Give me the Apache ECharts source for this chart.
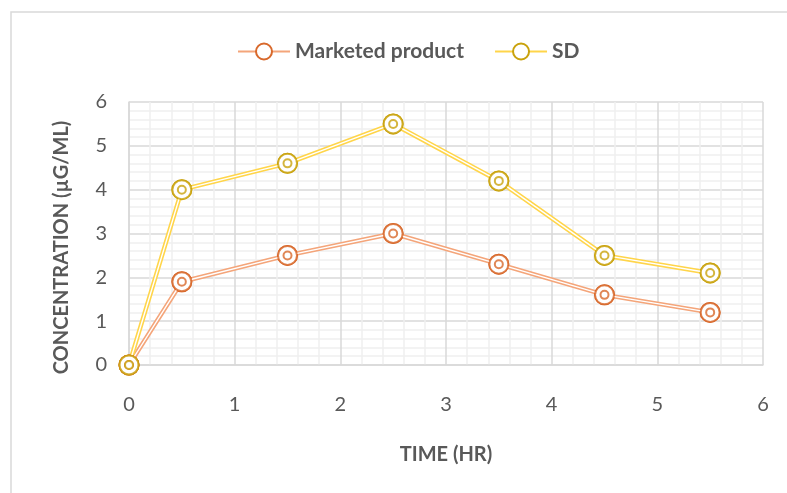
<!DOCTYPE html>
<html>
<head>
<meta charset="utf-8">
<script src="https://cdn.jsdelivr.net/npm/echarts@6/dist/echarts.min.js"></script>
<style>
  html, body { margin: 0; padding: 0; background: #fff; }
  #chart { width: 787px; height: 493px; }
</style>
</head>
<body>
<div id="chart"></div>
<script>
// Sampling times (hr) and plasma concentration (µg/mL) for each formulation
const timeHr = [0, 0.5, 1.5, 2.5, 3.5, 4.5, 5.5];
const marketedProduct = [0, 1.9, 2.5, 3.0, 2.3, 1.6, 1.2];
const sdFormulation = [0, 4.0, 4.6, 5.5, 4.2, 2.5, 2.1];
const seriesNames = ['Marketed product', 'SD'];
const axisTicks = [0, 1, 2, 3, 4, 5, 6];

const FONT = 'Lato, "Open Sans", sans-serif';
const pairs = (ys) => timeHr.map((t, i) => [t, ys[i]]);

// Each series is built as a double (compound) line with a double-ring marker
function compoundSeries(name, ys, lineColor, markColor) {
  const data = pairs(ys);
  return [
    {
      name: name, type: 'line', data: data,
      symbol: 'emptyCircle', symbolSize: 19,
      itemStyle: { color: markColor, borderWidth: 2.5 },
      lineStyle: { color: lineColor, width: 4.5 },
      z: 2
    },
    {
      type: 'line', data: data, symbol: 'none', silent: true,
      lineStyle: { color: '#ffffff', width: 1.4 },
      z: 3, legendHoverLink: false
    },
    {
      type: 'scatter', data: data, symbol: 'emptyCircle', symbolSize: 19, silent: true,
      itemStyle: { color: markColor, borderWidth: 2.5 },
      z: 4
    },
    {
      type: 'scatter', data: data, symbol: 'emptyCircle', symbolSize: 8, silent: true,
      itemStyle: { color: markColor, borderWidth: 2.2 },
      z: 5
    }
  ];
}

const chart = echarts.init(document.getElementById('chart'), null, { renderer: 'canvas' });
chart.setOption({
  animation: false,
  backgroundColor: '#ffffff',
  graphic: [{
    type: 'rect', shape: { x: 11, y: 12, width: 800, height: 500 },
    style: { fill: 'none', stroke: '#d9d9d9', lineWidth: 1.5 }, silent: true, z: -1
  }],
  legend: {
    data: seriesNames,
    top: 36, left: 232,
    itemWidth: 52, itemHeight: 20, itemGap: 30,
    textStyle: { fontFamily: FONT, fontWeight: 'bold', fontSize: 21, color: '#595959' }
  },
  grid: { left: 129, right: 24, top: 102, bottom: 128, containLabel: false },
  xAxis: {
    type: 'value', min: 0, max: 6, interval: 1,
    name: 'TIME (HR)', nameLocation: 'middle', nameGap: 80,
    nameTextStyle: { fontFamily: FONT, fontWeight: 'bold', fontSize: 20, color: '#595959' },
    axisLine: { show: true, lineStyle: { color: '#d9d9d9', width: 1.5 } },
    axisTick: { show: false },
    minorTick: { show: false, splitNumber: 5 },
    axisLabel: { margin: 30, fontFamily: FONT, fontSize: 20, color: '#595959',
      formatter: (v) => axisTicks.includes(v) ? String(v) : '' },
    splitLine: { show: true, lineStyle: { color: '#d9d9d9', width: 1.5 } },
    minorSplitLine: { show: true, lineStyle: { color: '#f0f0f0', width: 1.5 } }
  },
  yAxis: {
    type: 'value', min: 0, max: 6, interval: 1,
    name: 'CONCENTRATION (µG/ML)', nameLocation: 'middle', nameGap: 57,
    nameTextStyle: { fontFamily: FONT, fontWeight: 'bold', fontSize: 20, color: '#595959',
      padding: [0, 28, 0, 0] },
    axisLine: { show: true, lineStyle: { color: '#d9d9d9', width: 1.5 } },
    axisTick: { show: false },
    minorTick: { show: false, splitNumber: 5 },
    axisLabel: { margin: 22, fontFamily: FONT, fontSize: 20, color: '#595959' },
    splitLine: { show: true, lineStyle: { color: '#d9d9d9', width: 1.5 } },
    minorSplitLine: { show: true, lineStyle: { color: '#f0f0f0', width: 1.5 } }
  },
  series: [
    ...compoundSeries(seriesNames[0], marketedProduct, '#f4a57a', '#d8692c'),
    ...compoundSeries(seriesNames[1], sdFormulation, '#ffd54a', '#c9a20c')
  ]
});
</script>
</body>
</html>
